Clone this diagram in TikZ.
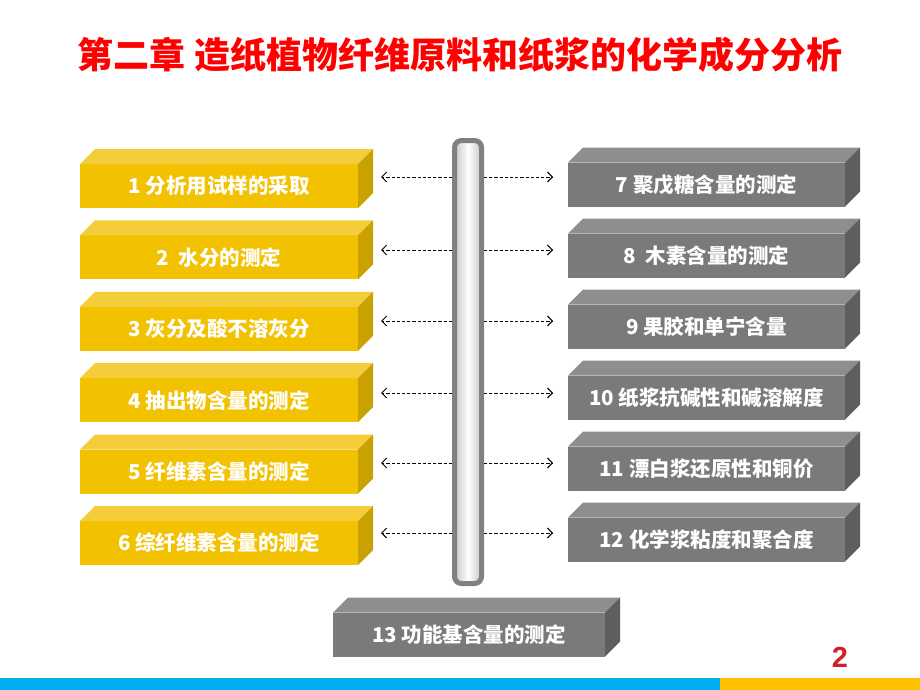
\documentclass[tikz,border=0pt]{standalone}
\usepackage{fontspec}
\setmainfont{Noto Sans CJK SC}
\newfontfamily\numfont{Liberation Sans}
\usetikzlibrary{arrows.meta,calc}
\definecolor{yfront}{HTML}{F2C200}
\definecolor{ytop}{HTML}{F5CD3A}
\definecolor{yside}{HTML}{C9A100}
\definecolor{gfront}{HTML}{7A7A7A}
\definecolor{gtop}{HTML}{8E8E8E}
\definecolor{gside}{HTML}{5E5E5E}
\definecolor{barborder}{HTML}{808080}
\definecolor{stripblue}{HTML}{00AEEF}
\definecolor{striporange}{HTML}{FFC000}
\definecolor{numred}{HTML}{D0202A}
\tikzset{
  boxtext/.style={inner sep=0pt, outer sep=0pt, text=white,
    font=\fontsize{20.5}{23}\selectfont\bfseries, minimum height=44pt},
  ybox/.style={boxtext, fill=yfront, minimum width=278pt},
  gbox/.style={boxtext, fill=gfront, minimum width=277pt},
  conn/.style={draw=black, line width=1pt, dash pattern=on 3.2pt off 2pt,
    -{Straight Barb[length=5pt,width=10pt]}},
}
\begin{document}
\begin{tikzpicture}[x=1pt,y=-1pt]
\useasboundingbox (0,0) rectangle (920,690);
\fill[white] (0,0) rectangle (920,690);
% title
\node[text=red, font=\fontsize{36}{40}\selectfont\bfseries] (title) at (460,55)
  {第二章 造纸植物纤维原料和纸浆的化学成分分析};
% central bar
\node[draw=barborder, line width=5pt, rounded corners=7pt,
  minimum width=27pt, minimum height=443pt, inner sep=0pt,
  left color=gray!45, right color=gray!45, middle color=white,
  shading angle=90] (bar) at (468,362) {};
% left boxes
\foreach \i/\y/\t in {1/186/{1 分析用试样的采取}, 2/257.4/{2~~水分的测定},
  3/328.8/{3 灰分及酸不溶灰分}, 4/400.2/{4 抽出物含量的测定},
  5/471.6/{5 纤维素含量的测定}, 6/543/{6 综纤维素含量的测定}}{
  \node[ybox] (L\i) at (219,\y) {\t};
  \fill[ytop] (L\i.north west) -- ++(15,-15) -- ([shift={(15,-15)}]L\i.north east) -- (L\i.north east) -- cycle;
  \fill[yside] (L\i.north east) -- ++(15,-15) -- ([shift={(15,-15)}]L\i.south east) -- (L\i.south east) -- cycle;
}
% right boxes
\foreach \i/\y/\t in {7/184.5/{7 聚戊糖含量的测定}, 8/255.5/{8~~木素含量的测定},
  9/326.5/{9 果胶和单宁含量}, 10/397.5/{10 纸浆抗碱性和碱溶解度},
  11/468.5/{11 漂白浆还原性和铜价}, 12/539.5/{12 化学浆粘度和聚合度}}{
  \node[gbox] (R\i) at (706.5,\y) {\t};
  \fill[gtop] (R\i.north west) -- ++(15,-15) -- ([shift={(15,-15)}]R\i.north east) -- (R\i.north east) -- cycle;
  \fill[gside] (R\i.north east) -- ++(15,-15) -- ([shift={(15,-15)}]R\i.south east) -- (R\i.south east) -- cycle;
}
% bottom box
\node[gbox, minimum width=272pt] (B13) at (469,634.5) {13 功能基含量的测定};
\fill[gtop] (B13.north west) -- ++(15,-15) -- ([shift={(15,-15)}]B13.north east) -- (B13.north east) -- cycle;
\fill[gside] (B13.north east) -- ++(15,-15) -- ([shift={(15,-15)}]B13.south east) -- (B13.south east) -- cycle;
% arrows
\foreach \i/\y in {1/177, 2/250, 3/321, 4/393, 5/463, 6/533}{
  \coordinate (la\i) at (381,\y);
  \coordinate (ra\i) at (553,\y);
  \draw[conn] (bar.west |- la\i) -- (la\i);
  \draw[conn] (bar.east |- ra\i) -- (ra\i);
}
% page number
\node[text=numred, font=\numfont\fontsize{29}{30}\selectfont\bfseries] (pnum) at (840,657) {2};
% bottom strip
\fill[stripblue] (0,678) rectangle (720,690);
\fill[striporange] (720,678) rectangle (920,690);
\end{tikzpicture}
\end{document}
